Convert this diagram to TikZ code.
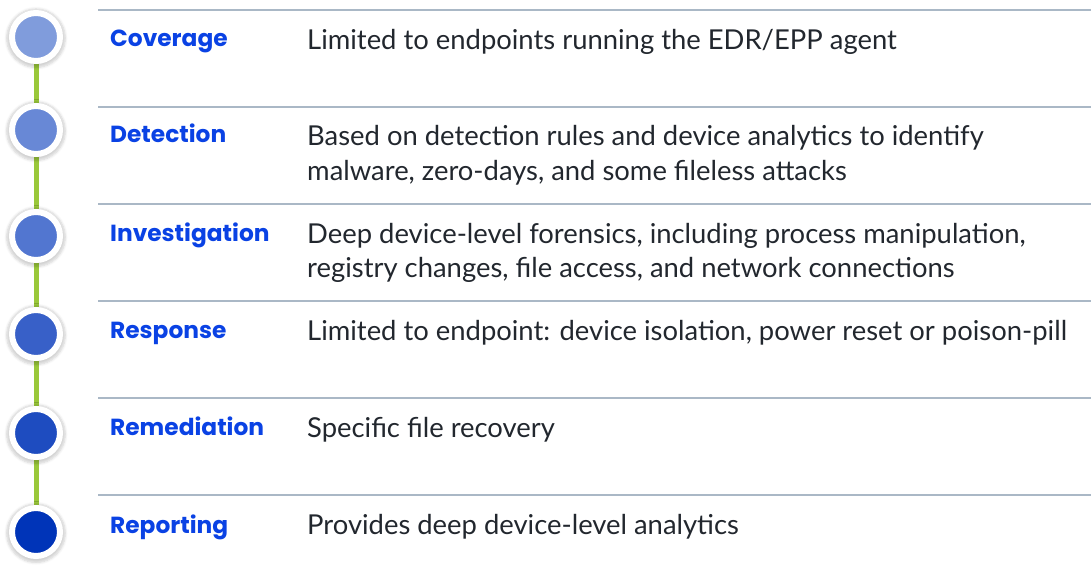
\documentclass[tikz,border=0pt]{standalone}
\usepackage{fontspec}
\setmainfont{Lato}
\newfontfamily\labelfont{Poppins}
\usetikzlibrary{shadows.blur,backgrounds}
\definecolor{lblblue}{RGB}{10,66,228}
\definecolor{txtcol}{RGB}{34,39,46}
\definecolor{sepcol}{RGB}{170,184,198}
\definecolor{stemcol}{RGB}{154,200,58}
\definecolor{k1}{RGB}{128,156,220}
\definecolor{k2}{RGB}{104,136,214}
\definecolor{k3}{RGB}{82,118,208}
\definecolor{k4}{RGB}{56,96,200}
\definecolor{k5}{RGB}{30,76,192}
\definecolor{k6}{RGB}{0,52,184}
\begin{document}
\begin{tikzpicture}[x=1pt,y=-1pt,
  dot/.style={circle, draw=white, line width=6pt, minimum size=48pt, inner sep=0pt,
    blur shadow={shadow xshift=0pt, shadow yshift=-1pt, shadow scale=1.22, shadow opacity=18, shadow blur steps=6}},
  stemline/.style={draw=stemcol, line width=5pt},
  sepline/.style={draw=sepcol, line width=1.2pt},
  lbl/.style={anchor=base west, inner sep=0pt, text=lblblue, font=\labelfont\bfseries\fontsize{23.3}{27}\selectfont},
  desc/.style={anchor=base west, inner sep=0pt, text=txtcol, font=\fontsize{27.4}{34}\selectfont, align=left}
]
\useasboundingbox (0,0) rectangle (1091,588);
% separators
\foreach \yy in {10,107,204,301,398,495} \draw[sepline] (98,\yy) -- (1091,\yy);
% circles
\node[dot, fill=k1] (c1) at (36,37) {};
\node[dot, fill=k2] (c2) at (36,130) {};
\node[dot, fill=k3] (c3) at (36,236) {};
\node[dot, fill=k4] (c4) at (36,334) {};
\node[dot, fill=k5] (c5) at (36,433) {};
\node[dot, fill=k6] (c6) at (36,532) {};
\begin{scope}[on background layer]
\draw[stemline] (c1) -- (c2);
\draw[stemline] (c2) -- (c3);
\draw[stemline] (c3) -- (c4);
\draw[stemline] (c4) -- (c5);
\draw[stemline] (c5) -- (c6);
\end{scope}
% labels
\node[lbl] (l1) at (110,47) {Coverage};
\node[lbl] (l2) at (110,143) {Detection};
\node[lbl] (l3) at (110,241) {Investigation};
\node[lbl] (l4) at (110,338) {Response};
\node[lbl] (l5) at (110,435) {Remediation};
\node[lbl] (l6) at (110,533) {Reporting};
% descriptions (two-line nodes are anchored at the baseline of their last line)
\node[desc] (d1) at (307,50) {Limited to endpoints running the EDR/EPP agent};
\node[desc] (d2) at (307,180) {Based on detection rules and device analytics to identify\\malware, zero-days, and some fileless attacks};
\node[desc] (d3) at (307,277) {Deep device-level forensics, including process manipulation,\\registry changes, file access, and network connections};
\node[desc] (d4) at (307,340) {Limited to endpoint: device isolation, power reset or poison-pill};
\node[desc] (d5) at (307,437) {Specific file recovery};
\node[desc] (d6) at (307,534) {Provides deep device-level analytics};
\end{tikzpicture}
\end{document}
